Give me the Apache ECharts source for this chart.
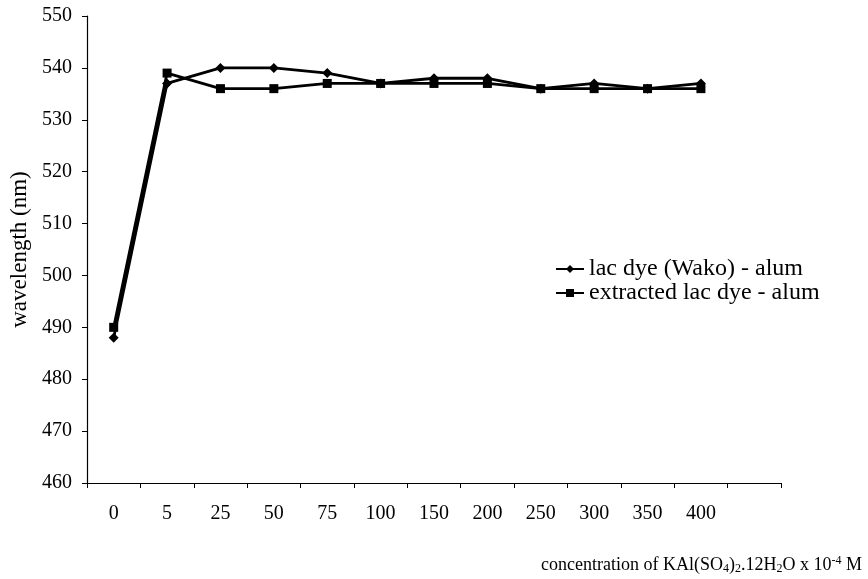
<!DOCTYPE html>
<html>
<head>
<meta charset="utf-8">
<script src="https://cdn.jsdelivr.net/npm/echarts@6/dist/echarts.min.js"></script>
<style>
  html, body { margin: 0; padding: 0; background: #fff; }
  #chart { width: 868px; height: 579px; }
</style>
</head>
<body>
<div id="chart"></div>
<script>
// Alum concentration categories (x 10^-4 M); the trailing blank slot leaves room past 400
const concentrations = ['0', '5', '25', '50', '75', '100', '150', '200', '250', '300', '350', '400', ''];
// Absorption maximum (nm) for each dye
const wakoDye = [488, 537, 540, 540, 539, 537, 538, 538, 536, 537, 536, 537];
const extractedDye = [490, 539, 536, 536, 537, 537, 537, 537, 536, 536, 536, 536];
const yTicks = { min: 460, max: 550, step: 10 };

const serif = '"Liberation Serif", "DejaVu Serif", serif';
const chart = echarts.init(document.getElementById('chart'));

chart.setOption({
  backgroundColor: '#fff',
  animation: false,
  grid: { left: 87, right: 87, top: 16, bottom: 96 },
  legend: {
    orient: 'vertical',
    left: 550,
    top: 252,
    itemWidth: 28,
    itemHeight: 10,
    itemGap: 0,
    textStyle: { fontFamily: serif, fontSize: 24, lineHeight: 23, color: '#000' },
    data: ['lac dye (Wako) - alum', 'extracted lac dye - alum']
  },
  xAxis: {
    type: 'category',
    data: concentrations,
    boundaryGap: true,
    axisLine: { lineStyle: { color: '#000', width: 1.2 } },
    axisTick: { show: true, length: 5, lineStyle: { color: '#000' } },
    axisLabel: { fontFamily: serif, fontSize: 20, color: '#000', margin: 21 },
    splitLine: { show: false }
  },
  yAxis: {
    type: 'value',
    min: yTicks.min,
    max: yTicks.max,
    interval: yTicks.step,
    name: 'wavelength (nm)',
    nameLocation: 'middle',
    nameGap: 52,
    nameTextStyle: { fontFamily: serif, fontSize: 23, color: '#000' },
    axisLine: { show: true, lineStyle: { color: '#000', width: 1.2 } },
    axisTick: { show: true, length: 5, lineStyle: { color: '#000' } },
    axisLabel: { fontFamily: serif, fontSize: 20, color: '#000', margin: 15 },
    splitLine: { show: false }
  },
  series: [
    {
      name: 'lac dye (Wako) - alum',
      type: 'line',
      data: wakoDye,
      symbol: 'diamond',
      symbolSize: 10,
      lineStyle: { color: '#000', width: 2.8 },
      itemStyle: { color: '#000' }
    },
    {
      name: 'extracted lac dye - alum',
      type: 'line',
      data: extractedDye,
      symbol: 'rect',
      symbolSize: 9,
      lineStyle: { color: '#000', width: 2.8 },
      itemStyle: { color: '#000' }
    }
  ],
  graphic: [
    {
      type: 'text',
      right: 6,
      top: 555,
      style: {
        text: 'concentration of KAl(SO{sub|4}){sub|2}.12H{sub|2}O x 10{sup|-4} M',
        fontFamily: serif,
        fontSize: 18,
        fill: '#000',
        rich: {
          sub: { fontFamily: serif, fontSize: 12, verticalAlign: 'bottom', padding: [8, 0, 0, 0], fill: '#000' },
          sup: { fontFamily: serif, fontSize: 12, verticalAlign: 'top', padding: [0, 0, 8, 0], fill: '#000' }
        }
      }
    }
  ]
});
</script>
</body>
</html>
